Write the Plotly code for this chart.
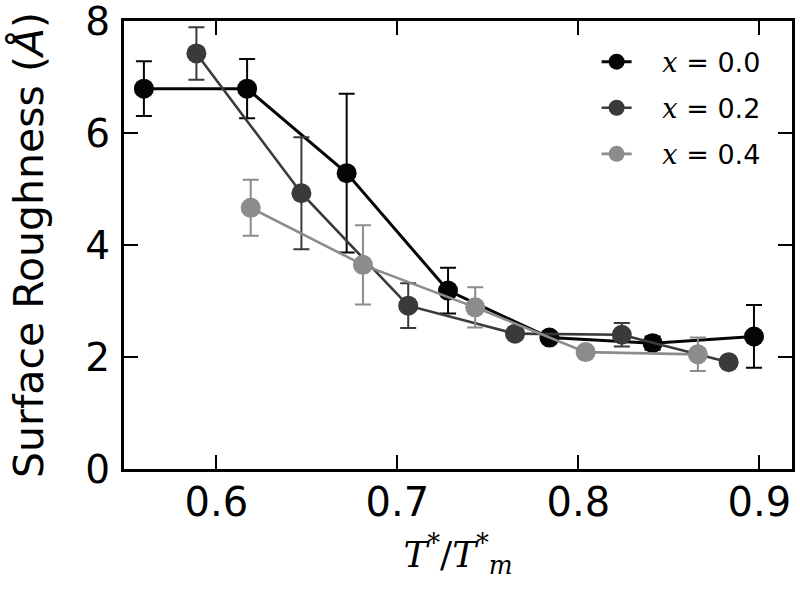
import plotly.graph_objects as go

# ---- data ----
t_x00 = [0.560, 0.617, 0.672, 0.728, 0.784, 0.841, 0.897]
r_x00 = [6.80, 6.80, 5.29, 3.19, 2.35, 2.25, 2.37]
e_x00 = [0.49, 0.53, 1.42, 0.41, 0.08, 0.12, 0.56]

t_x02 = [0.589, 0.647, 0.706, 0.765, 0.824, 0.883]
r_x02 = [7.43, 4.93, 2.92, 2.42, 2.40, 1.91]
e_x02 = [0.47, 1.00, 0.40, 0.08, 0.21, 0.08]

t_x04 = [0.619, 0.681, 0.743, 0.804, 0.866]
r_x04 = [4.67, 3.65, 2.89, 2.09, 2.05]
e_x04 = [0.50, 0.71, 0.36, 0.08, 0.30]

series_names = ["0.0", "0.2", "0.4"]
series_colors = ["#050505", "#3a3a3a", "#8c8c8c"]
x_ticks = [0.6, 0.7, 0.8, 0.9]
y_ticks = [0, 2, 4, 6, 8]

fig = go.Figure()
serif = "DejaVu Serif"
for name, col, xs, ys, es, lw in zip(series_names, series_colors,
                                     [t_x00, t_x02, t_x04],
                                     [r_x00, r_x02, r_x04],
                                     [e_x00, e_x02, e_x04],
                                     [3.0, 2.6, 2.6]):
    fig.add_trace(go.Scatter(
        x=xs, y=ys, mode="lines+markers",
        name=f"\u00a0\u00a0\u00a0<span style='font-family:{serif}'><i>x</i></span> = {name}",
        legendgroup=name,
        line=dict(color=col, width=lw),
        marker=dict(color=col, size=20, line=dict(width=0)),
        error_y=dict(type="data", array=es, visible=True, color=col,
                     thickness=2, width=8),
    ))

fig.update_layout(
    width=800, height=596,
    margin=dict(l=124, r=8, t=21, b=127),
    paper_bgcolor="white", plot_bgcolor="white",
    font=dict(family="DejaVu Sans", color="black"),
    showlegend=True,
    legend=dict(x=0.7075, y=0.963, xanchor="left", yanchor="top",
                bgcolor="rgba(0,0,0,0)", font=dict(size=27),
                tracegroupgap=8),
)
fig.update_xaxes(
    range=[0.549, 0.918], tickvals=x_ticks, ticktext=[f"{v:.1f}" for v in x_ticks],
    ticks="inside", ticklen=14, tickwidth=1.5, tickcolor="black",
    showline=True, linewidth=3, linecolor="black", mirror="ticks",
    showgrid=False, zeroline=False, tickfont=dict(size=40),
    ticklabelstandoff=-4, automargin=False, ticklabeloverflow="allow",
    title=dict(text=f"<span style='font-family:{serif}'><i>T</i><sup>*</sup>/<i>T</i><sup>*</sup><sub><i>m</i></sub></span>",
               font=dict(size=36), standoff=18),
)
fig.update_yaxes(
    range=[0, 8.01], tickvals=y_ticks, ticktext=[str(v) for v in y_ticks],
    ticks="inside", ticklen=14, tickwidth=1.5, tickcolor="black",
    showline=True, linewidth=3, linecolor="black", mirror="ticks",
    showgrid=False, zeroline=False, tickfont=dict(size=39),
    ticklabelstandoff=3, automargin=False, ticklabeloverflow="allow",
    title=dict(text="Surface Roughness (<i>Å</i>)", font=dict(size=41), standoff=30),
)

fig.write_html("out.html", config={"displayModeBar": False},
               post_script="document.body.style.margin='0';")
